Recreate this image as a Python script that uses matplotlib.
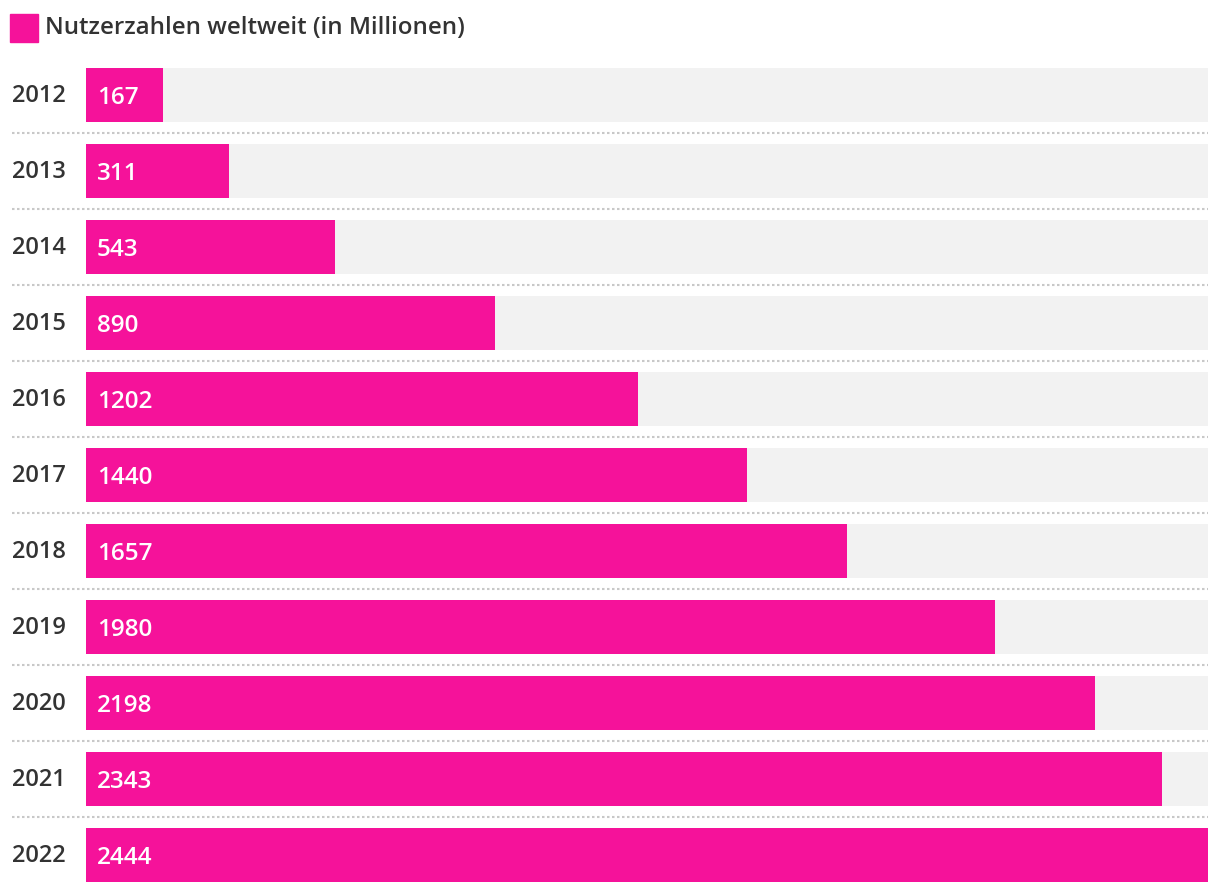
import matplotlib.pyplot as plt
import matplotlib.transforms as mtransforms

# data
years = ["2012", "2013", "2014", "2015", "2016", "2017", "2018", "2019", "2020", "2021", "2022"]
users = [167, 311, 543, 890, 1202, 1440, 1657, 1980, 2198, 2343, 2444]
legend_label = "Nutzerzahlen weltweit (in Millionen)"

PINK = "#f5129a"
TRACK = "#f2f2f2"
TEXT = "#333333"

plt.rcParams["font.family"] = ["Open Sans", "DejaVu Sans"]

W, H = 1220, 894
fig = plt.figure(figsize=(W / 100, H / 100), dpi=100)
ax = fig.add_axes([86 / W, (H - 882) / H, (1208 - 86) / W, (882 - 68) / H])

n = len(years)
bar_h = 54 / 76
xmax = max(users)
ypos = list(range(n))

ax.barh(ypos, [xmax] * n, height=bar_h, color=TRACK, zorder=1)
ax.barh(ypos, users, height=bar_h, color=PINK, zorder=2)

ax.set_xlim(0, xmax)
ax.set_ylim(n - 1 + bar_h / 2, -bar_h / 2)
ax.axis("off")

# value labels inside the bars (baseline ~9px below bar centre)
off = mtransforms.offset_copy(ax.transData, fig=fig, x=11, y=-9, units="dots")
for y, v in zip(ypos, users):
    ax.text(0, y, str(v), transform=off, color="white", fontsize=17.5,
            fontweight="semibold", va="baseline", ha="left", zorder=3)

# year labels on the left
blend = mtransforms.blended_transform_factory(fig.transFigure, ax.transData)
yr_off = mtransforms.offset_copy(blend, fig=fig, x=0, y=-7, units="dots")
for y, yr in zip(ypos, years):
    ax.text(12 / W, y, yr, transform=yr_off, color=TEXT, fontsize=17,
            fontweight="semibold", va="baseline", ha="left")

# dotted separators between rows
for y in ypos[:-1]:
    ax.plot([12 / W, 1208 / W], [y + 0.5, y + 0.5], transform=blend,
            color="#c8c8c8", lw=1.5, linestyle=(0, (1.2, 1.2)),
            clip_on=False, zorder=0)

# legend
fig.patches.append(plt.Rectangle((10 / W, (H - 42) / H), 28 / W, 28 / H,
                                 transform=fig.transFigure, color=PINK))
fig.text(45 / W, (H - 33.5) / H, legend_label, color=TEXT, fontsize=17.25,
         fontweight="semibold", va="baseline", ha="left")

fig.savefig("out.png", dpi=100)
